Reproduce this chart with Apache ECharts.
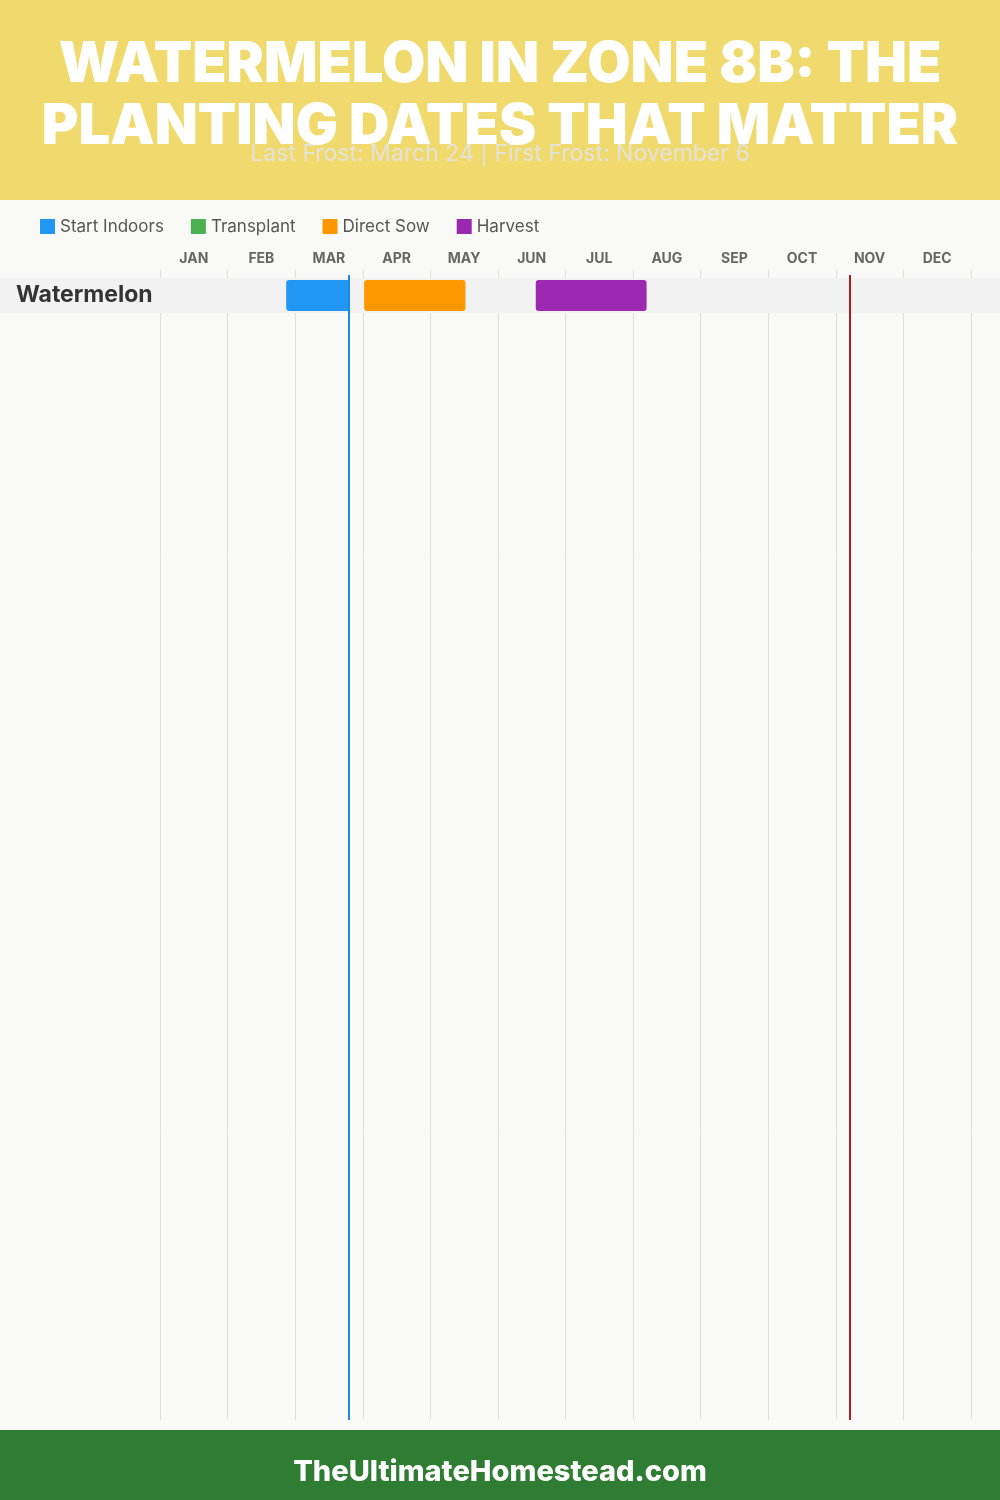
<!DOCTYPE html>
<html>
<head>
<meta charset="utf-8">
<script src="https://cdn.jsdelivr.net/npm/echarts@6/dist/echarts.min.js"></script>
<style>
html,body{margin:0;padding:0;background:#f9f9f7;}
#chart{width:1000px;height:1500px;}
</style>
</head>
<body>
<div id="chart"></div>
<script>
// ---- data ----
const months = ['JAN','FEB','MAR','APR','MAY','JUN','JUL','AUG','SEP','OCT','NOV','DEC'];
const crops = ['Watermelon'];
// ranges in month units (month index + day/30)
const startIndoors = [[0, 1.867, 2.81]];
const transplant = [];
const directSow = [[0, 3.02, 4.52]];
const harvest = [[0, 5.56, 7.2]];
const lastFrost = 2.8;   // March 24
const firstFrost = 10.2; // November 6
const titleText = 'WATERMELON IN ZONE 8B: THE\nPLANTING DATES THAT MATTER';
const subtitleText = 'Last Frost: March 24 | First Frost: November 6';
const footerText = 'TheUltimateHomestead.com';

const FONT = 'Inter, "Noto Sans", sans-serif';
const chart = echarts.init(document.getElementById('chart'), null, {renderer:'canvas'});

function renderBar(params, api){
  const y = api.value(0);
  const s = api.coord([api.value(1), y]);
  const e = api.coord([api.value(2), y]);
  const h = api.size([0, 1])[1] * 0.886;
  return {
    type: 'rect',
    shape: {x: s[0], y: s[1] - h / 2, width: e[0] - s[0], height: h, r: 3},
    style: {fill: api.visual('color')}
  };
}
function barSeries(name, data, color){
  return {
    name: name, type: 'custom', xAxisIndex: 0, yAxisIndex: 0,
    renderItem: renderBar, itemStyle: {color: color},
    encode: {x: [1, 2], y: 0}, data: data, z: 3
  };
}

const option = {
  backgroundColor: '#f9f9f7',
  animation: false,
  textStyle: {fontFamily: FONT},
  legend: {
    left: 35, top: 213, icon: 'rect', itemWidth: 15, itemHeight: 15, itemGap: 27,
    textStyle: {fontSize: 17, color: '#555', fontFamily: FONT},
    data: ['Start Indoors', 'Transplant', 'Direct Sow', 'Harvest']
  },
  graphic: [
    {type: 'rect', z: -10, shape: {x: 0, y: 0, width: 1000, height: 200}, style: {fill: '#f0da6e'}},
    {type: 'rect', z: 1, shape: {x: 0, y: 278, width: 1000, height: 35}, style: {fill: '#f2f2f2'}},
    {type: 'rect', z: -10, shape: {x: 0, y: 1430, width: 1000, height: 70}, style: {fill: '#2e7d32'}},
    {type: 'text', z: 5, x: 500, y: 34, style: {text: titleText, font: '900 56px ' + FONT, fill: '#ffffff', align: 'center', lineHeight: 62}},
    {type: 'text', z: 4, x: 500, y: 143, style: {text: subtitleText, font: '400 23px ' + FONT, fill: '#e4e2d8', align: 'center'}},
    {type: 'text', z: 5, x: 500, y: 1458, style: {text: footerText, font: '800 29px ' + FONT, fill: '#ffffff', align: 'center'}}
  ],
  grid: [
    {left: 160, right: 29, top: 278, height: 35},
    {left: 160, right: 29, top: 270, bottom: 80},
    {left: 160, right: 29, top: 275, bottom: 80}
  ],
  xAxis: [
    {gridIndex: 0, type: 'value', min: 0, max: 12, show: false},
    {gridIndex: 1, type: 'value', min: 0, max: 12, interval: 1,
      axisLine: {show: false}, axisTick: {show: false}, axisLabel: {show: false},
      splitLine: {show: true, lineStyle: {color: '#e0e0e0', width: 1}}},
    {gridIndex: 1, type: 'category', position: 'top', data: months, boundaryGap: true,
      axisLine: {show: false}, axisTick: {show: false}, splitLine: {show: false},
      axisLabel: {margin: 4, fontSize: 14, fontWeight: 'bold', color: '#666', fontFamily: FONT}},
    {gridIndex: 2, type: 'value', min: 0, max: 12, show: false}
  ],
  yAxis: [
    {gridIndex: 0, type: 'category', data: crops, inverse: true, z: 6,
      axisLine: {show: false}, axisTick: {show: false}, splitLine: {show: false},
      axisLabel: {align: 'left', margin: 144, fontSize: 23, fontWeight: 'bold', color: '#333', fontFamily: FONT}},
    {gridIndex: 1, type: 'value', min: 0, max: 1, show: false},
    {gridIndex: 2, type: 'value', min: 0, max: 1, show: false}
  ],
  series: [
    barSeries('Start Indoors', startIndoors, '#2196f3'),
    barSeries('Transplant', transplant, '#4caf50'),
    barSeries('Direct Sow', directSow, '#ff9800'),
    barSeries('Harvest', harvest, '#9c27b0'),
    {
      name: 'frost', type: 'line', xAxisIndex: 3, yAxisIndex: 2, data: [], z: 6,
      markLine: {
        silent: true, symbol: 'none', label: {show: false}, animation: false,
        data: [
          {xAxis: lastFrost, lineStyle: {color: '#1e88e5', width: 2, type: 'solid'}},
          {xAxis: firstFrost, lineStyle: {color: '#b71c1c', width: 2, type: 'solid'}}
        ]
      }
    }
  ]
};
chart.setOption(option);
</script>
</body>
</html>
